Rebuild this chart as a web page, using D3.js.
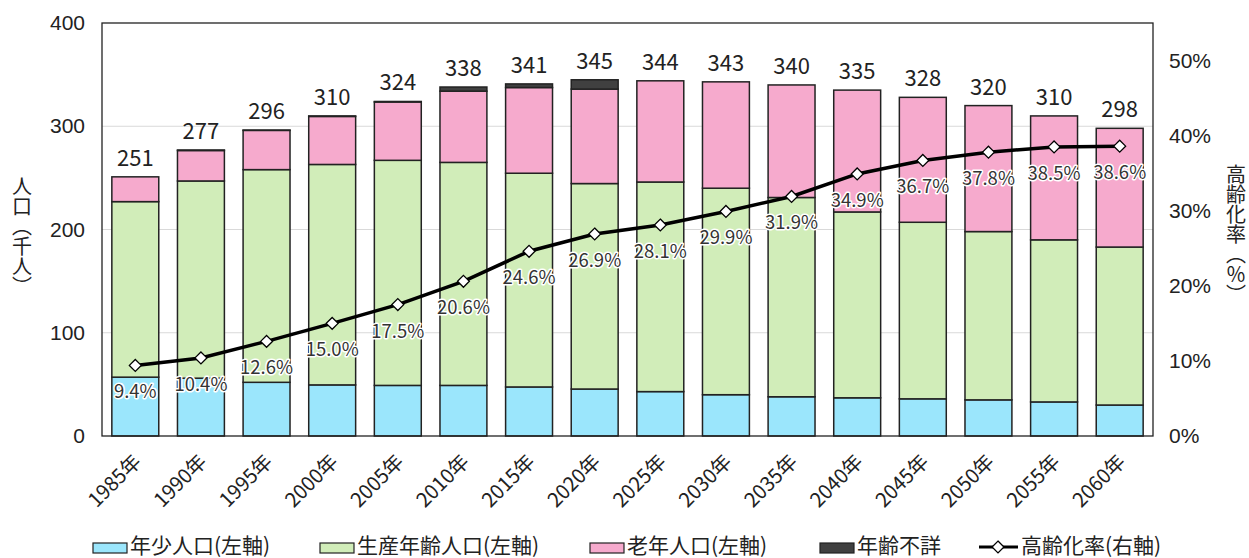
<!DOCTYPE html>
<html>
<head>
<meta charset="utf-8">
<style>
    body { margin: 0; background: #fff; }
    svg { font-family: "Noto Sans CJK JP", "Noto Sans", sans-serif; }
    .grid line { stroke: #d9d9d9; stroke-width: 1px; }
    .axis text { font-size: 21px; fill: #222; }
    .xlab { font-size: 20px; fill: #222; }
    .total { font-size: 22px; fill: #222; }
    .rate-label { font-size: 18.5px; fill: #333; stroke: #fff; stroke-width: 3px; paint-order: stroke; stroke-linejoin: round; }
    .legend text { font-size: 21px; fill: #222; }
</style>
</head>
<body>
<svg width="1249" height="558"></svg>
<script src="https://d3js.org/d3.v7.min.js"></script>
<script>
    // data (thousands of people)
    let years = ["1985年","1990年","1995年","2000年","2005年","2010年","2015年","2020年",
                 "2025年","2030年","2035年","2040年","2045年","2050年","2055年","2060年"]
    let young   = [57, 56, 52, 49.5, 49, 49, 47.5, 45.5, 43, 40, 38, 37, 36, 35, 33, 30]
    let working = [170, 191, 206, 213.5, 218, 216, 207, 199, 203, 200, 193, 180, 171, 163, 157, 153]
    let elderly = [24, 29.5, 38, 46.5, 56.5, 69, 83, 91.5, 98, 103, 109, 118, 121, 122, 120, 115]
    let unknown = [0, 0.5, 0.3, 0.5, 0.5, 4, 3.5, 9, 0, 0, 0, 0, 0, 0, 0, 0]
    let totals  = [251, 277, 296, 310, 324, 338, 341, 345, 344, 343, 340, 335, 328, 320, 310, 298]
    let rate    = [9.4, 10.4, 12.6, 15.0, 17.5, 20.6, 24.6, 26.9, 28.1, 29.9, 31.9, 34.9, 36.7, 37.8, 38.5, 38.6]

    let leftTicks = [0, 100, 200, 300, 400]
    let rightTicks = [0, 10, 20, 30, 40, 50]

    let keys = ["young", "working", "elderly", "unknown"]
    let names = ["年少人口(左軸)", "生産年齢人口(左軸)", "老年人口(左軸)", "年齢不詳"]
    let colors = ["#9be6fc", "#d1edb9", "#f6aacd", "#404040"]

    let rows = years.map((y, i) => ({
        year: y, young: young[i], working: working[i], elderly: elderly[i], unknown: unknown[i]
    }))

    let margin = { top: 23, right: 96, bottom: 122, left: 102 }
    let width = 1249, height = 558
    let svg = d3.select("svg")

    let x = d3.scaleBand()
        .domain(years)
        .range([margin.left, width - margin.right])
        .paddingInner(0.285)
        .paddingOuter(0.15)

    let y = d3.scaleLinear()
        .domain([0, 400])
        .range([height - margin.bottom, margin.top])

    let y2 = d3.scaleLinear()
        .domain([0, 55])
        .range([height - margin.bottom, margin.top])

    let color = d3.scaleOrdinal().domain(keys).range(colors)

    // gridlines
    svg.append("g")
        .attr("class", "grid")
        .selectAll("line")
        .data([100, 200, 300])
        .join("line")
        .attr("x1", margin.left).attr("x2", width - margin.right)
        .attr("y1", d => y(d)).attr("y2", d => y(d))

    let series = d3.stack().keys(keys)(rows)

    svg.append("g")
        .selectAll("g")
        .data(series)
        .join("g")
        .attr("fill", d => color(d.key))
        .selectAll("rect")
        .data(d => d.filter(s => s[1] - s[0] > 0))
        .join("rect")
        .attr("x", d => x(d.data.year))
        .attr("width", x.bandwidth())
        .attr("y", d => y(d[1]))
        .attr("height", d => y(d[0]) - y(d[1]))
        .attr("stroke", "#222")
        .attr("stroke-width", 1.5)

    // plot frame
    svg.append("rect")
        .attr("x", margin.left).attr("y", margin.top)
        .attr("width", width - margin.right - margin.left)
        .attr("height", height - margin.bottom - margin.top)
        .attr("fill", "none")
        .attr("stroke", "#222")
        .attr("stroke-width", 1.3)

    // totals above bars
    svg.append("g")
        .selectAll("text")
        .data(totals)
        .join("text")
        .attr("class", "total")
        .attr("x", (d, i) => x(years[i]) + x.bandwidth() / 2)
        .attr("y", d => y(d) - 11)
        .attr("text-anchor", "middle")
        .text(d => d)

    // left axis
    svg.append("g")
        .attr("class", "axis")
        .attr("transform", `translate(${margin.left},0)`)
        .call(d3.axisLeft(y).tickValues(leftTicks).tickSize(0).tickPadding(17))
        .call(g => g.select(".domain").remove())

    // right axis
    svg.append("g")
        .attr("class", "axis")
        .attr("transform", `translate(${width - margin.right},0)`)
        .call(d3.axisRight(y2).tickValues(rightTicks).tickSize(0).tickPadding(16).tickFormat(d => d + "%"))
        .call(g => g.select(".domain").remove())

    // x labels, rotated
    svg.append("g")
        .selectAll("text")
        .data(years)
        .join("text")
        .attr("class", "xlab")
        .attr("text-anchor", "end")
        .attr("transform", d => `translate(${x(d) + x.bandwidth() / 2 + 7},${height - margin.bottom + 27}) rotate(-45)`)
        .text(d => d)

    // axis titles
    svg.append("text")
        .attr("x", 22).attr("y", 176)
        .attr("style", "writing-mode: vertical-rl; font-size:20px; fill:#222")
        .text("人口（千人）")

    svg.append("text")
        .attr("x", 1236).attr("y", 164)
        .attr("style", "writing-mode: vertical-rl; font-size:20px; fill:#222")
        .text("高齢化率（％）")

    // ageing rate line
    let line = d3.line()
        .x((d, i) => x(years[i]) + x.bandwidth() / 2)
        .y(d => y2(d))

    svg.append("path")
        .datum(rate)
        .attr("fill", "none")
        .attr("stroke", "#000")
        .attr("stroke-width", 3.5)
        .attr("d", line)

    let diamond = d3.symbol().type(d3.symbolDiamond2).size(90)

    svg.append("g")
        .selectAll("path")
        .data(rate)
        .join("path")
        .attr("d", diamond)
        .attr("transform", (d, i) => `translate(${x(years[i]) + x.bandwidth() / 2},${y2(d)})`)
        .attr("fill", "#fff")
        .attr("stroke", "#000")
        .attr("stroke-width", 1.3)

    svg.append("g")
        .selectAll("text")
        .data(rate)
        .join("text")
        .attr("class", "rate-label")
        .attr("x", (d, i) => x(years[i]) + x.bandwidth() / 2)
        .attr("y", d => y2(d) + 33)
        .attr("text-anchor", "middle")
        .text(d => d.toFixed(1) + "%")

    // legend
    let legend = svg.append("g").attr("class", "legend")
    let lx = [93, 320, 590, 820]
    keys.forEach((k, i) => {
        legend.append("rect")
            .attr("x", lx[i]).attr("y", 543)
            .attr("width", 34).attr("height", 10)
            .attr("fill", colors[i])
            .attr("stroke", "#222").attr("stroke-width", 1.2)
        legend.append("text")
            .attr("x", lx[i] + 37).attr("y", 553)
            .text(names[i])
    })
    legend.append("line")
        .attr("x1", 979).attr("x2", 1018)
        .attr("y1", 547).attr("y2", 547)
        .attr("stroke", "#000").attr("stroke-width", 3)
    legend.append("path")
        .attr("d", diamond)
        .attr("transform", "translate(998,547)")
        .attr("fill", "#fff").attr("stroke", "#000").attr("stroke-width", 1.3)
    legend.append("text")
        .attr("x", 1021).attr("y", 553)
        .text("高齢化率(右軸)")
</script>
</body>
</html>
